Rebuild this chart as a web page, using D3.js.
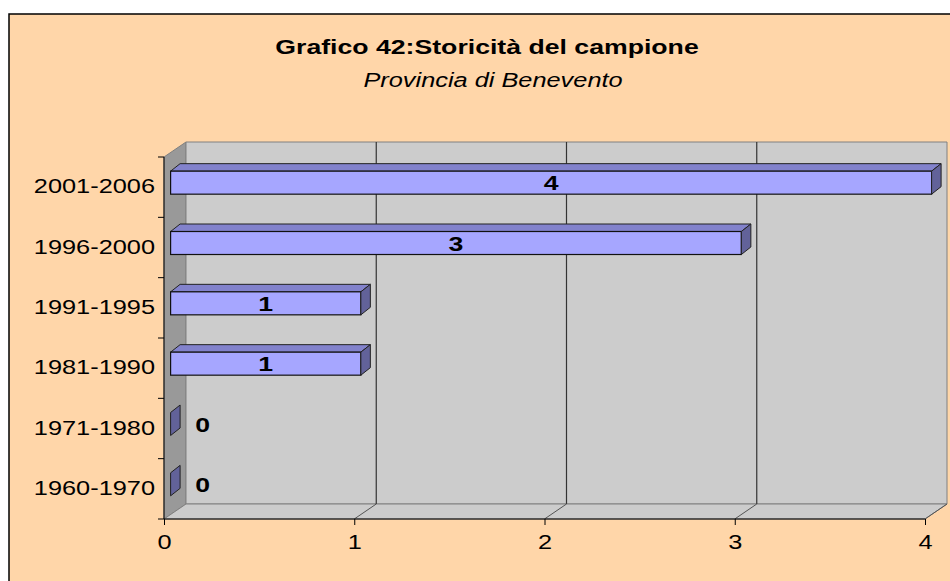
<!DOCTYPE html>
<html>
<head>
<meta charset="utf-8">
<script src="https://cdn.jsdelivr.net/npm/d3@7/dist/d3.min.js"></script>
<style>
  html, body { margin: 0; padding: 0; background: #fff; }
  svg { display: block; font-family: "Liberation Sans", Arial, sans-serif; }
</style>
</head>
<body>
<svg id="chart" width="950" height="581"></svg>
<script>
// data, bottom to top as in the picture
var categories = ["1960-1970", "1971-1980", "1981-1990", "1991-1995", "1996-2000", "2001-2006"];
var values = [0, 0, 1, 1, 3, 4];
var xTicks = [0, 1, 2, 3, 4];
var titleText = "Grafico 42:Storicità del campione";
var subtitleText = "Provincia di Benevento";

var width = 950, height = 581;
var svg = d3.select("#chart");
var sx = 1.3; // text in the original is stretched sideways

// front plane of the 3d box
var pLeft = 164, pRight = 925, pTop = 157, pBottom = 519;
var depth = {x: 22, y: -15};     // full wall depth
var barFront = {x: 6.6, y: -4.5}; // bar front face offset
var barDepth = {x: 9.5, y: -7.5}; // bar thickness in depth
var barH = 23;

var x = d3.scaleLinear().domain([0, 4]).range([pLeft, pRight]);
var y = d3.scaleBand().domain(categories.slice().reverse()).range([pTop, pBottom]).padding(0);

function stretchText(sel, tx, ty) {
  return sel.attr("x", 0).attr("y", 0)
    .attr("transform", "translate(" + tx + "," + ty + ") scale(" + sx + ",1)");
}

// background frame
svg.append("rect").attr("x", 9).attr("y", 14).attr("width", 980).attr("height", 600)
  .attr("fill", "#FFD6A9").attr("stroke", "#000").attr("stroke-width", 1.5);

// titles
stretchText(svg.append("text"), 487, 54).attr("text-anchor", "middle")
  .attr("font-size", 20.5).attr("font-weight", "bold").text(titleText);
stretchText(svg.append("text"), 493, 87).attr("text-anchor", "middle")
  .attr("font-size", 19.5).attr("font-style", "italic").text(subtitleText);

function pts(a) { return a.map(function(p){ return p[0] + "," + p[1]; }).join(" "); }

// walls
svg.append("polygon") // left wall
  .attr("points", pts([[pLeft, pTop], [pLeft + depth.x, pTop + depth.y], [pLeft + depth.x, pBottom + depth.y], [pLeft, pBottom]]))
  .attr("fill", "#999999").attr("stroke", "#808080");
svg.append("polygon") // back wall
  .attr("points", pts([[pLeft + depth.x, pTop + depth.y], [pRight + depth.x, pTop + depth.y], [pRight + depth.x, pBottom + depth.y], [pLeft + depth.x, pBottom + depth.y]]))
  .attr("fill", "#CCCCCC").attr("stroke", "#808080");
svg.append("polygon") // floor
  .attr("points", pts([[pLeft, pBottom], [pLeft + depth.x, pBottom + depth.y], [pRight + depth.x, pBottom + depth.y], [pRight, pBottom]]))
  .attr("fill", "#CCCCCC").attr("stroke", "#808080");

// gridlines on back wall and floor
var grid = svg.append("g");
xTicks.filter(function(d){ return d > 0 && d < 4; }).forEach(function(d){
  grid.append("line").attr("x1", x(d) + depth.x).attr("x2", x(d) + depth.x)
    .attr("y1", pTop + depth.y).attr("y2", pBottom + depth.y)
    .attr("stroke", "#333").attr("stroke-width", 1.2);
});
xTicks.filter(function(d){ return d > 0; }).forEach(function(d){
  grid.append("line").attr("x1", x(d)).attr("x2", x(d) + depth.x)
    .attr("y1", pBottom).attr("y2", pBottom + depth.y)
    .attr("stroke", "#555").attr("stroke-width", 1);
});

// axes
var xAxis = svg.append("g").attr("transform", "translate(0," + pBottom + ")")
  .call(d3.axisBottom(x).tickValues(xTicks).tickFormat(d3.format("d")).tickSize(6).tickPadding(10));
xAxis.select(".domain").attr("stroke", "#000").attr("d", "M" + pLeft + ",0H" + pRight);
xAxis.selectAll("text").attr("font-size", 19.5).attr("font-family", "Liberation Sans, Arial, sans-serif")
  .attr("fill", "#000").attr("transform", "scale(" + sx + ",1)");

var yAxis = svg.append("g").attr("transform", "translate(" + pLeft + ",0)")
  .call(d3.axisLeft(y).tickSize(0).tickPadding(9));
yAxis.select(".domain").remove();
yAxis.selectAll("text").attr("font-size", 19.5).attr("font-family", "Liberation Sans, Arial, sans-serif")
  .attr("fill", "#000").attr("x", -9 / sx).attr("transform", "scale(" + sx + ",1)");
svg.append("line").attr("x1", pLeft).attr("x2", pLeft).attr("y1", pTop).attr("y2", pBottom).attr("stroke", "#000");
var yBounds = categories.map(function(c){ return y(c); }).concat([pBottom]);
svg.append("g").selectAll("line").data(yBounds).join("line")
  .attr("x1", pLeft - 6).attr("x2", pLeft).attr("y1", function(d){ return d; }).attr("y2", function(d){ return d; })
  .attr("stroke", "#000");

// bars
var bars = svg.append("g").selectAll("g").data(categories).join("g");
bars.each(function(c, i){
  var g = d3.select(this);
  var v = values[i];
  var cy = y(c) + y.bandwidth() / 2 + barFront.y;
  var x0 = x(0) + barFront.x, x1 = x(v) + barFront.x;
  var y0 = cy - barH / 2, y1 = cy + barH / 2;
  var dx = barDepth.x, dy = barDepth.y;
  if (v > 0) {
    g.append("polygon").attr("points", pts([[x0, y0], [x0 + dx, y0 + dy], [x1 + dx, y0 + dy], [x1, y0]]))
      .attr("fill", "#8282CC").attr("stroke", "#222").attr("stroke-width", 1);
    g.append("rect").attr("x", x0).attr("y", y0).attr("width", x1 - x0).attr("height", barH)
      .attr("fill", "#A6A6FF").attr("stroke", "#111").attr("stroke-width", 1.2);
  }
  g.append("polygon").attr("points", pts([[x1, y0], [x1 + dx, y0 + dy], [x1 + dx, y1 + dy], [x1, y1]]))
    .attr("fill", "#626299").attr("stroke", "#222").attr("stroke-width", 1);
  stretchText(g.append("text"), v > 0 ? (x0 + x1) / 2 : x1 + 32, cy + 7.5)
    .attr("text-anchor", "middle")
    .attr("font-size", 20.5).attr("font-weight", "bold").text(v);
});
</script>
</body>
</html>
